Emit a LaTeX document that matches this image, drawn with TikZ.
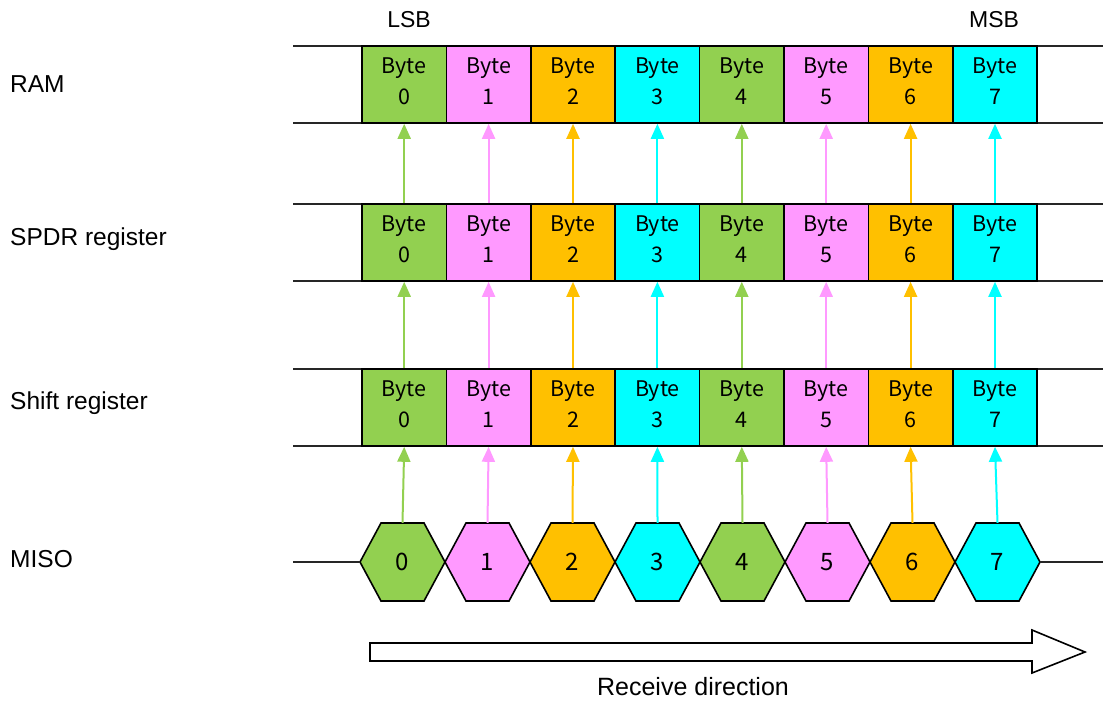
\documentclass[tikz,border=0pt]{standalone}
\usepackage{fontspec}
\setmainfont{Liberation Sans}
\newfontfamily\jpfont{Noto Sans CJK JP}
\usetikzlibrary{arrows.meta}
\definecolor{bgreen}{HTML}{92D050}
\definecolor{bpink}{HTML}{FF99FF}
\definecolor{borange}{HTML}{FFC000}
\definecolor{bcyan}{HTML}{00FFFF}
\begin{document}
\begin{tikzpicture}[x=1pt,y=-1pt,
  bytebox/.style={draw=black, line width=1.6pt, minimum width=84.4pt, minimum height=77pt,
    inner sep=0pt},
  bytetext/.style={inner sep=0pt, align=center, font=\jpfont\fontsize{21.5}{31}\selectfont},
  hexlabel/.style={minimum width=85pt, minimum height=78pt, inner sep=0pt,
    font=\jpfont\fontsize{24}{24}\selectfont},
  hexshape/.style={draw=black, line width=1.6pt, line join=miter},
  rowline/.style={line width=1.4pt, draw=black!85},
  uparrow/.style={line width=2pt, -{Triangle[width=13pt,length=15pt]}},
  rowlabel/.style={anchor=west, inner sep=0pt, font=\fontsize{24.5}{25}\selectfont},
  toplabel/.style={inner sep=0pt, font=\fontsize{23}{25}\selectfont},
  bottomlabel/.style={inner sep=0pt, font=\fontsize{25}{26}\selectfont}]
\useasboundingbox (0,0) rectangle (1103,704);

% row titles
\node[rowlabel] (tram) at (10,84) {RAM};
\node[rowlabel] (tspdr) at (10,239) {SPDR register};
\node[rowlabel] (tshift) at (10,403) {Shift register};
\node[rowlabel] (tmiso) at (10,559) {MISO};
\node[toplabel] (lsb) at (409,20) {LSB};
\node[toplabel] (msb) at (994,20) {MSB};

% bus lines of the three byte rows
\foreach \ya in {46,123,204,281,369,446}
  \draw[rowline] (293,\ya) -- (1103,\ya);

% byte cells and MISO hexagons
\foreach \i/\c in {0/bgreen,1/bpink,2/borange,3/bcyan,4/bgreen,5/bpink,6/borange,7/bcyan}{
  \pgfmathsetmacro\bx{404.2+84.4*\i}
  \pgfmathsetmacro\hx{402.5+85*\i}
  \node[bytebox, fill=\c] (r\i) at (\bx,84.5) {};
  \node[bytebox, fill=\c] (p\i) at (\bx,242.5) {};
  \node[bytebox, fill=\c] (s\i) at (\bx,407.5) {};
  \node[bytetext] (rt\i) at ([yshift=3pt]r\i.center) {Byte\\\i};
  \node[bytetext] (pt\i) at ([yshift=3pt]p\i.center) {Byte\\\i};
  \node[bytetext] (st\i) at ([yshift=3pt]s\i.center) {Byte\\\i};
  \draw[hexshape, fill=\c] (\hx-42.5,562) -- (\hx-21.5,523) -- (\hx+21.5,523)
    -- (\hx+42.5,562) -- (\hx+21.5,601) -- (\hx-21.5,601) -- cycle;
  \node[hexlabel] (h\i) at (\hx,562) {\i};
}

% transfer arrows
\foreach \i/\c in {0/bgreen,1/bpink,2/borange,3/bcyan,4/bgreen,5/bpink,6/borange,7/bcyan}{
  \draw[uparrow, draw=\c] (h\i.north) -- (s\i.south);
  \draw[uparrow, draw=\c] (s\i.north) -- (p\i.south);
  \draw[uparrow, draw=\c] (p\i.north) -- (r\i.south);
}

% MISO line
\coordinate (mL) at (293,562);
\coordinate (mR) at (1103,562);
\draw[rowline] (mL) -- (h0.west);
\draw[rowline] (h7.east) -- (mR);

% receive direction arrow
\draw[line width=1.6pt, fill=white, line join=miter]
  (370,643) -- (1032,643) -- (1032,630) -- (1085,652) -- (1032,673)
  -- (1032,661) -- (370,661) -- cycle;
\node[bottomlabel] (recv) at (693,687) {Receive direction};
\end{tikzpicture}
\end{document}
